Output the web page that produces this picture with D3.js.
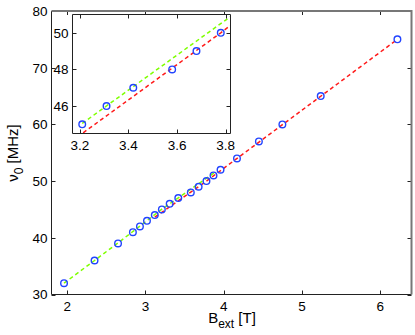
<!DOCTYPE html>
<html><head><meta charset="utf-8">
<script src="https://cdn.jsdelivr.net/npm/d3@7"></script>
<style>body{margin:0;background:#fff}svg{display:block}text{font-family:"Liberation Sans",Arial,sans-serif;fill:#000}</style>
</head><body>
<svg id="c" width="415" height="335"></svg>
<script>
// Measured data: external field B (T) and resonance frequency nu0 (MHz)
const bField = [1.96, 2.35, 2.65, 2.84, 2.93, 3.02, 3.12, 3.21, 3.31, 3.42, 3.58, 3.68, 3.78, 3.87, 3.96, 4.17, 4.45, 4.75, 5.24, 6.22];
const nu0    = [32, 36, 39, 41, 42, 43, 44, 45, 46, 47, 48, 49, 50, 51, 52, 54, 57, 60, 65, 75];
// Fit curves
const greenB  = [1.96, 2.35, 2.65, 3.21, 3.79, 3.88];
const greenNu = [32.0, 36.0, 39.1, 45.05, 50.6, 51.45];
const redB    = [3.12, 3.21, 3.78, 6.22];
const redNu   = [43.65, 44.5, 50.0, 75.0];
// Ticks
const xTicks = [2, 3, 4, 5, 6];
const yTicks = [30, 40, 50, 60, 70, 80];
const insetXTicks = [3.2, 3.4, 3.6, 3.8];
const insetYTicks = [46, 48, 50];

const pts = bField.map((b, i) => ({b, v: nu0[i]}));
const green = greenB.map((b, i) => ({b, v: greenNu[i]}));
const red = redB.map((b, i) => ({b, v: redNu[i]}));

const svg = d3.select("#c");
const fs = 13.5;

function panel(g, x, y, xt, yt, opts) {
  const [x0, x1] = x.range(), [y0, y1] = y.range();
  const id = opts.id;
  svg.append("clipPath").attr("id", id).append("rect")
    .attr("x", x0).attr("y", y1).attr("width", x1 - x0).attr("height", y0 - y1);
  if (opts.bg) g.append("rect").attr("x", x0).attr("y", y1).attr("width", x1 - x0).attr("height", y0 - y1).attr("fill", "#fff");
  const line = d3.line().x(d => x(d.b)).y(d => y(d.v));
  const cg = g.append("g").attr("clip-path", `url(#${id})`);
  const gr = opts.greenFilter ? green.filter(opts.greenFilter) : green;
  cg.append("path").datum(gr).attr("d", line).attr("fill", "none")
    .attr("stroke", "#7fff00").attr("stroke-width", 1.5).attr("stroke-dasharray", "4,3");
  cg.append("path").datum(red).attr("d", line).attr("fill", "none")
    .attr("stroke", "#ff1a1a").attr("stroke-width", 1.5).attr("stroke-dasharray", "4,3");
  cg.selectAll("circle").data(pts).join("circle")
    .attr("cx", d => x(d.b)).attr("cy", d => y(d.v)).attr("r", 3.3)
    .attr("fill", "none").attr("stroke", "#2244ff").attr("stroke-width", 1.4);
  const tl = 4;
  xt.forEach(t => {
    const px = Math.round(x(t)) + 0.5;
    g.append("line").attr("x1", px).attr("x2", px).attr("y1", y0).attr("y2", y0 - tl).attr("stroke", "#222");
    g.append("line").attr("x1", px).attr("x2", px).attr("y1", y1).attr("y2", y1 + tl).attr("stroke", "#222");
    g.append("text").attr("x", x(t)).attr("y", y0 + 16).attr("text-anchor", "middle").attr("font-size", fs).text(opts.xfmt(t));
  });
  yt.forEach(t => {
    const py = Math.round(y(t)) + 0.5;
    g.append("line").attr("x1", x0).attr("x2", x0 + tl).attr("y1", py).attr("y2", py).attr("stroke", "#222");
    g.append("line").attr("x1", x1).attr("x2", x1 - tl).attr("y1", py).attr("y2", py).attr("stroke", "#222");
    g.append("text").attr("x", x0 - 4).attr("y", y(t) + 4.8).attr("text-anchor", "end").attr("font-size", fs).text(t);
  });
  g.append("path").attr("d", `M${x0},${y1}V${y0}H${x1}`).attr("fill", "none").attr("stroke", "#222").attr("stroke-width", 1);
  g.append("path").attr("d", `M${x0},${y1}H${x1}V${y0}`).attr("fill", "none").attr("stroke", opts.topColor).attr("stroke-width", opts.topWidth);
}

// Main axes
const x = d3.scaleLinear().domain([1.8, 6.4]).range([51.5, 411.5]);
const y = d3.scaleLinear().domain([30, 80]).range([294.5, 11]);
const gMain = svg.append("g");
panel(gMain, x, y, xTicks, yTicks, {id: "cm", xfmt: d => d, topColor: "#777", topWidth: 2});

// Inset axes
const xi = d3.scaleLinear().domain([3.17, 3.82]).range([72.5, 230.5]);
const yi = d3.scaleLinear().domain([44.5, 51.0]).range([133.5, 14.5]);
const gIn = svg.append("g");
panel(gIn, xi, yi, insetXTicks, insetYTicks, {id: "ci", bg: true, xfmt: d3.format(".1f"), greenFilter: d => d.b >= 3.2, topColor: "#222", topWidth: 1});

// Axis labels
const xl = svg.append("text").attr("x", 232).attr("y", 323).attr("text-anchor", "middle").attr("font-size", 15);
xl.append("tspan").text("B");
xl.append("tspan").attr("font-size", 12).attr("dy", 5).text("ext");
xl.append("tspan").attr("dy", -5).text(" [T]");

const yl = svg.append("text").attr("transform", "translate(18,153) rotate(-90)").attr("text-anchor", "middle").attr("font-size", 15);
yl.append("tspan").text("ν");
yl.append("tspan").attr("font-size", 12).attr("dy", 5).text("0");
yl.append("tspan").attr("dy", -5).text(" [MHz]");
</script>
</body></html>
